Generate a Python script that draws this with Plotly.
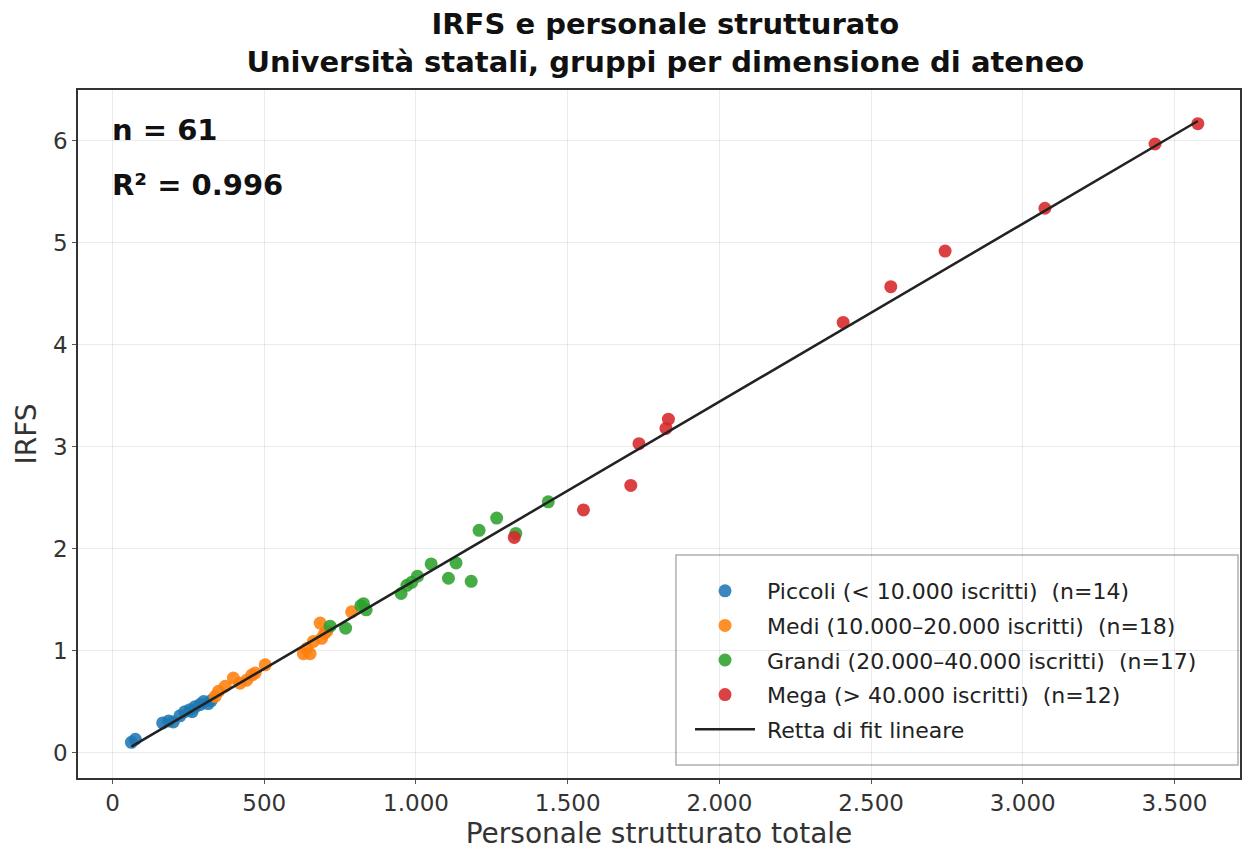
import numpy as np
import plotly.graph_objects as go

# ---- data ----
categories = [
    "Piccoli (< 10.000 iscritti)",
    "Medi (10.000–20.000 iscritti)",
    "Grandi (20.000–40.000 iscritti)",
    "Mega (> 40.000 iscritti)",
]
colors = ["#1f77b4", "#ff7f0e", "#2ca02c", "#d62728"]

piccoli_x = [62, 75, 165, 185, 200, 222, 238, 255, 262, 272, 288, 300, 315, 325]
piccoli_y = [0.10, 0.13, 0.29, 0.31, 0.30, 0.36, 0.40, 0.42, 0.40, 0.45, 0.47, 0.50, 0.48, 0.51]

medi_x = [338, 349, 371, 398, 420, 442, 459, 470, 503, 629, 640, 651, 662, 689, 699, 706, 684, 788]
medi_y = [0.55, 0.60, 0.65, 0.73, 0.68, 0.71, 0.76, 0.78, 0.86, 0.97, 1.02, 0.97, 1.09, 1.12, 1.17, 1.19, 1.27, 1.38]

grandi_x = [717, 768, 818, 827, 836, 951, 970, 986, 1005, 1050, 1107, 1132, 1182, 1208, 1266, 1329, 1436]
grandi_y = [1.24, 1.22, 1.44, 1.46, 1.40, 1.56, 1.64, 1.67, 1.73, 1.85, 1.71, 1.86, 1.68, 2.18, 2.30, 2.15, 2.46]

mega_x = [1324, 1552, 1708, 1735, 1824, 1832, 2408, 2565, 2744, 3073, 3436, 3577]
mega_y = [2.11, 2.38, 2.62, 3.03, 3.18, 3.27, 4.22, 4.57, 4.92, 5.34, 5.97, 6.17]

x_ticks = [0, 500, 1000, 1500, 2000, 2500, 3000, 3500]
y_ticks = [0, 1, 2, 3, 4, 5, 6]

series_x = [piccoli_x, medi_x, grandi_x, mega_x]
series_y = [piccoli_y, medi_y, grandi_y, mega_y]

fig = go.Figure()
for i, (name, c, xs, ys) in enumerate(zip(categories, colors, series_x, series_y)):
    fig.add_trace(go.Scatter(
        x=xs, y=ys, mode="markers",
        name=f" {name}  (n={len(xs)})", legendgroup=f"g{i}",
        marker=dict(color=c, size=13, opacity=0.88, line=dict(width=0)),
    ))

all_x = np.concatenate([np.array(v, float) for v in series_x])
all_y = np.concatenate([np.array(v, float) for v in series_y])
slope, intercept = np.polyfit(all_x, all_y, 1)
fx = np.array([all_x.min(), all_x.max()])
fig.add_trace(go.Scatter(
    x=fx, y=slope * fx + intercept, mode="lines",
    name=" Retta di fit lineare", legendgroup="fit",
    line=dict(color="#222222", width=2.5),
))

font_family = "DejaVu Sans"
fig.update_layout(
    width=1252, height=854,
    margin=dict(l=70, r=20, t=82, b=84, autoexpand=False),
    paper_bgcolor="white", plot_bgcolor="white",
    separators=",.",
    font=dict(family=font_family, color="#333333"),
    title=dict(
        text="<b>IRFS e personale strutturato</b><br><b>Università statali, gruppi per dimensione di ateneo</b>",
        x=0.525, xanchor="center", xref="container",
        y=0.969, yanchor="middle", yref="container",
        font=dict(size=29, color="#111111", family=font_family),
    ),
    showlegend=True,
    legend=dict(
        x=0.5267, xanchor="left", y=0.3023, yanchor="top",
        bgcolor="rgba(0,0,0,0)", borderwidth=0,
        font=dict(size=22, color="#222222", family=font_family),
        itemwidth=60, tracegroupgap=3,
    ),
    shapes=[dict(
        type="rect", xref="paper", yref="paper",
        x0=0.5146, x1=0.9983, y0=0.0189, y1=0.3241,
        line=dict(color="#b0b0b0", width=1.5), fillcolor="white", layer="below",
    )],
)
fig.update_xaxes(
    range=[-114, 3716], tickvals=x_ticks, tickformat=",d", automargin=False,
    showgrid=True, gridcolor="rgba(0,0,0,0.08)", gridwidth=1,
    showline=True, linecolor="#333333", linewidth=1.6, mirror=True,
    ticks="outside", ticklen=4, tickcolor="#555555",
    tickfont=dict(size=23, color="#333333"),
    title=dict(text="Personale strutturato totale", font=dict(size=28, color="#333333"), standoff=8),
    zeroline=False,
)
fig.update_yaxes(
    range=[-0.25, 6.5], tickvals=y_ticks, automargin=False,
    showgrid=True, gridcolor="rgba(0,0,0,0.08)", gridwidth=1,
    showline=True, linecolor="#333333", linewidth=1.6, mirror=True,
    ticks="outside", ticklen=4, tickcolor="#555555",
    tickfont=dict(size=23, color="#333333"),
    title=dict(text="IRFS", font=dict(size=28, color="#333333"), standoff=8),
    zeroline=False,
)
fig.add_annotation(text="<b>n = 61</b>", xref="paper", yref="paper", x=0.0276, y=0.942,
                   xanchor="left", yanchor="middle", showarrow=False,
                   font=dict(size=29, color="#111111", family=font_family))
fig.add_annotation(text="<b>R² = 0.996</b>", xref="paper", yref="paper", x=0.0276, y=0.862,
                   xanchor="left", yanchor="middle", showarrow=False,
                   font=dict(size=29, color="#111111", family=font_family))

fig.write_html("out.html")
